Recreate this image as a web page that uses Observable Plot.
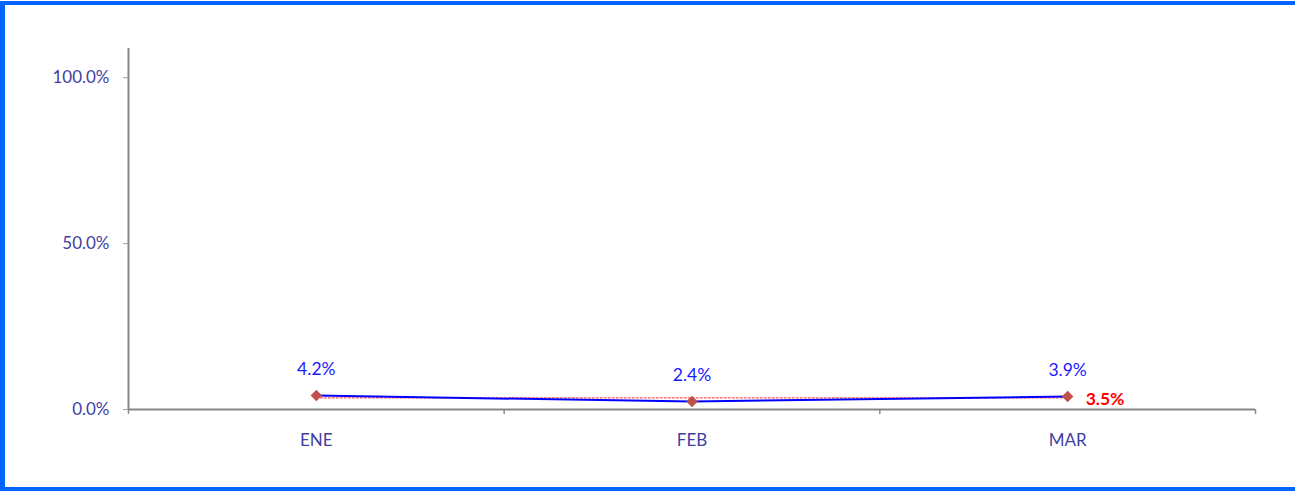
<!DOCTYPE html>
<html>
<head>
<meta charset="utf-8">
<script src="https://cdn.jsdelivr.net/npm/d3@7"></script>
<script src="https://cdn.jsdelivr.net/npm/@observablehq/plot@0.6"></script>
<style>
  html, body { margin: 0; padding: 0; background: #fff; }
  #wrap { position: relative; width: 1295px; height: 491px; overflow: hidden; }
  #frame { position: absolute; left: 0; top: 1px; width: 1295px; height: 490px; box-sizing: border-box;
           border-left: 5px solid #0066ff; border-top: 4px solid #0066ff; border-bottom: 4px solid #0066ff; pointer-events: none; }
  #chart { position: absolute; left: 0; top: 0; }
</style>
</head>
<body>
<div id="wrap"><div id="chart"></div><div id="frame"></div></div>
<script>
const months = ["ENE", "FEB", "MAR"];
const actual = [0.042, 0.024, 0.039];
const target = [0.035, 0.035, 0.035];
const yTicks = [0, 0.5, 1];
const targetLabel = "3.5%";

const rows = months.map((m, i) => ({ m, x: i + 0.5, actual: actual[i], target: target[i] }));
const last = rows[rows.length - 1];
const pct = d3.format(".1%");
const labelColor = "#3f3f9f";
const font = "Lato, 'Open Sans', sans-serif";

const chart = Plot.plot({
  width: 1295,
  height: 491,
  marginLeft: 128,
  marginRight: 40,
  marginTop: 44,
  marginBottom: 82,
  style: { fontFamily: font, fontSize: "17px", background: "transparent" },
  x: { domain: [0, months.length], axis: null },
  y: { domain: [0, 1.1], axis: null },
  marks: [
    // y axis
    Plot.axisY({ ticks: yTicks, tickFormat: d3.format(".1%"), tickSize: 5, tickPadding: 14,
                 stroke: "#a0a0a0", fill: labelColor, fontSize: 17, fontFamily: font, label: null }),
    // x category labels
    Plot.axisX({ ticks: rows.map(r => r.x), tickFormat: (d, i) => months[i], tickSize: 0,
                 tickPadding: 24, fill: labelColor, fontSize: 17, fontFamily: font, label: null }),
    // x boundary ticks
    Plot.axisX({ ticks: d3.range(0, months.length + 1), tickFormat: () => "", tickSize: 5,
                 stroke: "#8a8a8a", strokeWidth: 1.5, label: null }),
    Plot.ruleY([0], { x1: 0, x2: months.length, stroke: "#868686", strokeWidth: 2 }),
    Plot.ruleX([0], { y1: 0, y2: 1.1, stroke: "#868686", strokeWidth: 2, insetBottom: -4 }),
    // target dotted line
    Plot.lineY(rows, { x: "x", y: "target", stroke: "#ff3030", strokeWidth: 1, strokeDasharray: "2,2" }),
    // actual line
    Plot.lineY(rows, { x: "x", y: "actual", stroke: "#0000ff", strokeWidth: 2 }),
    Plot.dot(rows, { x: "x", y: "actual", symbol: "diamond2", r: 4.2, fill: "#c0504d", stroke: "#c0504d", strokeWidth: 1.5 }),
    Plot.text(rows, { x: "x", y: "actual", text: d => pct(d.actual), dy: -26, fill: "#1a1aff",
                      fontSize: 17.5, fontFamily: font }),
    Plot.text([last], { x: "x", y: "target", text: () => targetLabel, dx: 18, dy: 2, textAnchor: "start",
                        fill: "#ff0000", fontWeight: "bold", fontSize: 17.5, fontFamily: font })
  ]
});
document.getElementById("chart").appendChild(chart);
</script>
</body>
</html>
